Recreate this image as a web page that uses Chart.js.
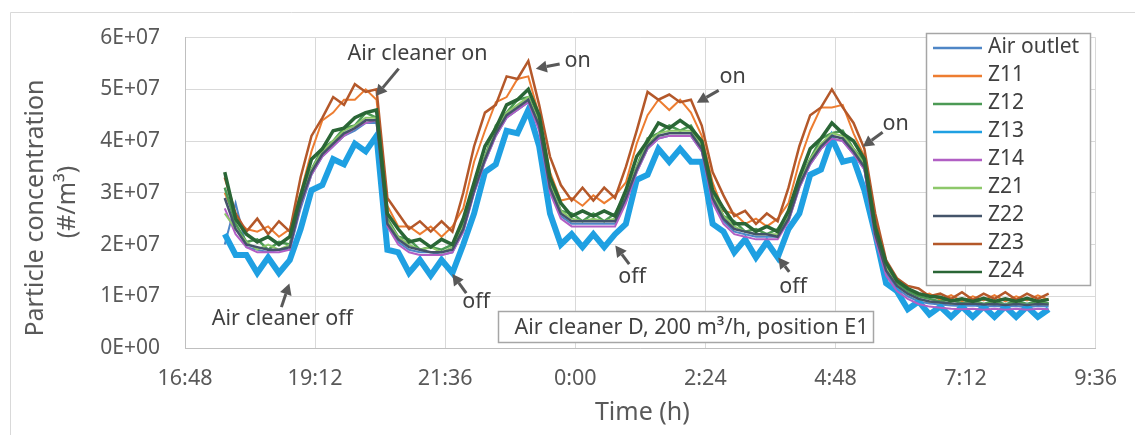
<!DOCTYPE html>
<html><head><meta charset="utf-8">
<script src="https://cdn.jsdelivr.net/npm/chart.js@4.4.1/dist/chart.umd.min.js"></script>
<style>html,body{margin:0;padding:0;background:#fff;}#wrap{width:1135px;height:435px;}</style>
</head><body><div id="wrap"><canvas id="c" width="1135" height="435"></canvas></div>
<script>
// time: minutes after 16:48
const timeMin = [44,56,68,80,92,104,116,128,140,152,164,
176,188,200,212,224,236,248,260,272,284,296,
308,320,332,344,356,368,380,392,404,416,428,
440,452,464,476,488,500,512,524,536,548,560,
572,584,596,608,620,632,644,656,668,680,692,
704,716,728,740,752,764,776,788,800,812,824,
836,848,860,872,884,896,908,920,932,944,956];

// values in units of 1E+06 #/m3
const airOutlet = [20,28,19.5,19,18.5,19,19,27,33.5,37,39,
41,42,43.5,43.5,24,20.5,19,18.5,18.5,18,18.5,
22.5,30,36,41,44.5,46,47.5,42.5,30.5,25.5,24,
24,24,24,24,28.5,34,38.5,40.5,41,41,41,
38,28.5,24.5,22.5,22,21.5,21.5,21.5,24.5,31,35.5,
38.5,40.5,40,37.5,34.5,21.5,14.5,11.5,10,9,8.6,
8.4,8.2,8.1,8.2,8,8.1,8,8.1,7.9,8.1,8];
const z11 = [30,25,23,22.5,23.5,21.5,23,30,38,44,45.5,
48,48,50,48,27.5,23.5,23.5,22,23.5,21.5,23.5,
27,36,42,47.5,48.5,52,52.5,45,34,28.5,29,
27.5,29.5,28,29.5,32,39.5,45,48,46,48,45.5,
41,32,26.5,26,24,25,23.5,25,28,36,42,
46.5,46.5,47,41.5,37,25,16,12.5,11.5,10,10.5,
9.3,10.2,9,10,9.2,10.2,9,10,9.2,10.2,9.3];
const z12 = [31,24,20.5,21,19,20.5,20,29,34.5,38.5,40,
42.5,43,45.5,44.5,25,21.5,21,19,19.5,19,20,
24,31.5,37,43,45.5,48,48.5,44,32,26.5,26,
24.5,26,24.5,26,30,35,40.5,41.5,43,42,43,
39.5,30,25.5,24.5,22.5,23,22,23,26,32.5,36.5,
40.5,41.5,42,38.5,36,23,16,12.5,11,10,9.5,
9,9.4,8.6,9.2,8.5,9.1,8.4,9.1,8.5,9.1,8.6];
const z13 = [22,18,18,14.5,17.5,14.5,17,23,30.5,31.5,36.5,
35.5,39.5,38,41,19,18.5,14.5,17,14,17,14.5,
20,26,34,35.5,42,41.5,46,39,26,20,22,
19.5,22,19.5,22,24,32.5,33.5,38.5,36,38.5,36,
36,24,22.5,18.5,21,17.5,20.5,17.5,23,26,33.5,
34.5,40.5,36,36.5,30.5,22,12.5,11,7.5,9,6.5,
8,6,8,6,8,6,8,6,8,6,7.5];
const z14 = [27,22,19.5,18.5,18.5,18.5,19,27.5,33.5,37,39,
41,42.5,43.5,44,23.5,20,18.5,18,18,18,18.5,
22.5,30,36,41,44.5,46,47.5,42,30,25,23.5,
23.5,23.5,23.5,23.5,28,34,38.5,40.5,41,41,41,
38,28,24,22,21.5,21,21,21,24.5,31,35.5,
38.5,40.5,40,37.5,34.5,21,14,11,9.5,8.5,8,
7.8,7.6,7.5,7.6,7.4,7.6,7.4,7.6,7.4,7.6,7.5];
const z21 = [26,23,20.5,19,20,19,20,28.5,34.5,38,40,
42,43,44.5,44.5,24.5,21.5,20,19,19.5,18.5,19.5,
23.5,31,37,42,45.5,47,48.5,43.5,31.5,26.5,25,
24.5,25,24.5,25,29.5,35,39.5,41.5,42,42,42,
39,29.5,25.5,23.5,22.5,22,22,22,25.5,32,36.5,
39.5,41.5,41,38.5,35.5,22.5,15.5,12,10.5,9.5,9,
8.8,8.6,8.5,8.7,8.5,8.6,8.4,8.6,8.4,8.6,8.5];
const z22 = [29,23,20,19.5,19,19,19.5,28,34,37.5,39.5,
41.5,42.5,44,44,24,21,19.5,19,18.5,18.5,19,
23,30.5,36.5,41.5,45,46.5,48,43,31,26,24.5,
24.5,24.5,24.5,24.5,29,34.5,39,41,41.5,41.5,41.5,
38.5,29,25,23,22.5,22,22,21.5,25,31.5,36,
39,41,40.5,38,35,22,15,12,10.5,9.5,9,
8.8,8.6,8.5,8.6,8.4,8.5,8.3,8.5,8.3,8.5,8.4];
const z23 = [33,26,22.5,25,22,24.5,22.5,33,41,44.5,48.5,
47,51,49.5,50,29,26,23,24.5,22.5,24.5,22.5,
30,39,45.5,47,52.5,52,55.5,47,37,31.5,28.5,
31,28.5,31,29,35,42,49.5,48,49,47.5,48,
43,34,29.5,25.5,26.5,24,26,24.5,31,39,45,
46.5,50,46.5,43.5,38.5,26,17,13.5,12,11.5,10,
10.5,9.5,10.8,9.3,10.5,9.5,10.8,9.3,10.5,9.5,10.5];
const z24 = [34,25,22,20.5,21.5,20,21.5,29.5,36.5,38.5,42,
42.5,44.5,45.5,46,26,23,20.5,21,19.5,21,20,
25,32,39,42.5,47,48,50,45,33,28,25.5,
26.5,25.5,26.5,25.5,30.5,37,40,43.5,42.5,44,42.5,
40,30.5,27,24,24,22.5,23.5,22.5,26.5,33,38.5,
40.5,43.5,41.5,40,36.5,23.5,16.5,13,11.5,10.5,10,
9.8,9.1,9.5,9,9.6,9,9.5,9,9.6,9,9.4];

const seriesNames = ['Air outlet','Z11','Z12','Z13','Z14','Z21','Z22','Z23','Z24'];
const seriesValues = [airOutlet,z11,z12,z13,z14,z21,z22,z23,z24];

const xTickMin = [0,144,288,432,576,720,864,1008];
const xTickLabels = ['16:48','19:12','21:36','0:00','2:24','4:48','7:12','9:36'];
const yTickVals = [0,10,20,30,40,50,60];
const yTickLabels = ['0E+00','1E+07','2E+07','3E+07','4E+07','5E+07','6E+07'];

// annotations (time in minutes after 16:48, value in 1E+06)
const notes = [
  {text:'Air cleaner off', t:107.8, v:5.66, tail:[106.7,7.9], tip:[115.5,12.45]},
  {text:'Air cleaner on', t:257.4, v:56.8, tail:[236.5,54.0], tip:[211.2,48.7]},
  {text:'on', t:434.5, v:55.5, tail:[414.7,54.9], tip:[388.3,54.0]},
  {text:'on', t:606.1, v:52.5, tail:[590.7,49.8], tip:[566.5,47.4]},
  {text:'on', t:786.5, v:43.4, tail:[772.2,41.7], tip:[750.2,38.9]},
  {text:'off', t:322.3, v:8.9, tail:[311.3,10.6], tip:[295.9,14.3]},
  {text:'off', t:495.0, v:13.8, tail:[491.7,16.2], tip:[476.3,19.8]},
  {text:'off', t:673.2, v:11.9, tail:[668.8,14.7], tip:[656.7,17.5]}
];
const infoBox = {text:'Air cleaner D, 200 m\u00B3/h, position E1', t0:346.6, t1:761.3, v0:1.13, v1:7.17};

// styles
const seriesColors = ['#4F86C6','#ED7D31','#4C9A55','#1FA0E2','#B15FC4','#8DC86A','#44546A','#B4582A','#2A6636'];
const seriesWidths = [2,2,2.5,6,2,2,2.5,2.5,3.5];
const FONT = '"Noto Sans", "Open Sans", sans-serif';
const TXT = '#595959';

function arrow(ctx, x1, y1, x2, y2) {
  const ang = Math.atan2(y2 - y1, x2 - x1);
  const hl = 11, hw = 6;
  const bx = x2 - hl * Math.cos(ang), by = y2 - hl * Math.sin(ang);
  ctx.strokeStyle = '#595959'; ctx.fillStyle = '#595959'; ctx.lineWidth = 3;
  ctx.beginPath(); ctx.moveTo(x1, y1); ctx.lineTo(bx, by); ctx.stroke();
  ctx.beginPath();
  ctx.moveTo(x2, y2);
  ctx.lineTo(bx + hw * Math.sin(ang), by - hw * Math.cos(ang));
  ctx.lineTo(bx - hw * Math.sin(ang), by + hw * Math.cos(ang));
  ctx.closePath(); ctx.fill();
}

const overlay = {
  id: 'overlay',
  beforeDraw(chart) {
    const ctx = chart.ctx; ctx.save();
    ctx.fillStyle = '#fff'; ctx.fillRect(0, 0, chart.width, chart.height);
    ctx.strokeStyle = '#D9D9D9'; ctx.lineWidth = 1;
    ctx.beginPath(); ctx.moveTo(10.5, chart.height); ctx.lineTo(10.5, 12.5); ctx.lineTo(chart.width, 12.5); ctx.stroke();
    ctx.restore();
  },
  afterDatasetsDraw(chart) {
    const ctx = chart.ctx, xs = chart.scales.x, ys = chart.scales.y;
    ctx.save();
    // info box
    const bx0 = xs.getPixelForValue(infoBox.t0), bx1 = xs.getPixelForValue(infoBox.t1);
    const by0 = ys.getPixelForValue(infoBox.v1), by1 = ys.getPixelForValue(infoBox.v0);
    ctx.fillStyle = '#fff'; ctx.fillRect(bx0, by0, bx1 - bx0, by1 - by0);
    ctx.strokeStyle = '#A6A6A6'; ctx.lineWidth = 1.5;
    ctx.strokeRect(Math.round(bx0) + 0.5, Math.round(by0) + 0.5, Math.round(bx1 - bx0), Math.round(by1 - by0));
    ctx.fillStyle = '#404040'; ctx.font = '21.5px ' + FONT; ctx.textAlign = 'center'; ctx.textBaseline = 'middle';
    ctx.fillText(infoBox.text, (bx0 + bx1) / 2 + 6, (by0 + by1) / 2 + 1);
    // notes
    notes.forEach(n => {
      arrow(ctx, xs.getPixelForValue(n.tail[0]), ys.getPixelForValue(n.tail[1]),
                 xs.getPixelForValue(n.tip[0]), ys.getPixelForValue(n.tip[1]));
      ctx.fillStyle = '#404040'; ctx.font = '21.5px ' + FONT; ctx.textAlign = 'center'; ctx.textBaseline = 'middle';
      ctx.fillText(n.text, xs.getPixelForValue(n.t), ys.getPixelForValue(n.v));
    });
    // legend
    const lx0 = 926, ly0 = 33, lw = 164, lh = 252;
    ctx.fillStyle = '#fff'; ctx.fillRect(lx0, ly0, lw, lh);
    ctx.strokeStyle = '#A6A6A6'; ctx.lineWidth = 1.5; ctx.strokeRect(lx0 + 0.5, ly0 + 0.5, lw, lh);
    ctx.font = '21px ' + FONT; ctx.textAlign = 'left'; ctx.textBaseline = 'middle';
    seriesNames.forEach((name, i) => {
      const y = 47 + i * 28;
      ctx.strokeStyle = seriesColors[i]; ctx.lineWidth = 2.5;
      ctx.beginPath(); ctx.moveTo(933, y + 1); ctx.lineTo(982, y + 1); ctx.stroke();
      ctx.fillStyle = '#404040'; ctx.fillText(name, 988, y);
    });
    // axis titles
    ctx.fillStyle = TXT; ctx.textAlign = 'center'; ctx.textBaseline = 'middle';
    ctx.font = '25px ' + FONT;
    ctx.fillText('Time (h)', (chart.chartArea.left + chart.chartArea.right) / 2 + 2, 413);
    ctx.save(); ctx.translate(36, 208); ctx.rotate(-Math.PI / 2); ctx.fillText('Particle concentration', 0, 0); ctx.restore();
    ctx.save(); ctx.translate(68, 202); ctx.rotate(-Math.PI / 2); ctx.fillText('(#/m\u00B3)', 0, 0); ctx.restore();
    ctx.restore();
  }
};

new Chart(document.getElementById('c'), {
  type: 'line',
  data: {
    datasets: seriesNames.map((name, i) => ({
      label: name,
      data: timeMin.map((t, k) => ({x: t, y: seriesValues[i][k]})),
      borderColor: seriesColors[i],
      backgroundColor: seriesColors[i],
      borderWidth: seriesWidths[i],
      pointRadius: 0,
      tension: 0,
      fill: false,
      order: 8 - i
    }))
  },
  options: {
    responsive: false,
    devicePixelRatio: 1,
    animation: false,
    layout: {padding: {top: 30, right: 34, left: 0, bottom: 0}},
    plugins: {legend: {display: false}, tooltip: {enabled: false}},
    scales: {
      x: {
        type: 'linear', min: 0, max: 1008,
        afterBuildTicks: s => { s.ticks = xTickMin.map(v => ({value: v})); },
        afterFit: s => { s.height = 87; },
        ticks: {callback: (v, i) => xTickLabels[i], color: TXT, font: {family: FONT, size: 21.5}, padding: 18, maxRotation: 0, autoSkip: false},
        grid: {color: '#D9D9D9', drawTicks: false, lineWidth: 1},
        border: {color: '#BFBFBF', width: 1}
      },
      y: {
        type: 'linear', min: 0, max: 60,
        afterBuildTicks: s => { s.ticks = yTickVals.map(v => ({value: v})); },
        afterFit: s => { s.width = 185; },
        ticks: {callback: (v, i) => yTickLabels[i], color: TXT, font: {family: FONT, size: 21}, padding: 25},
        grid: {color: '#D9D9D9', drawTicks: false, lineWidth: 1},
        border: {color: '#BFBFBF', width: 1}
      }
    }
  },
  plugins: [overlay]
});
</script></body></html>
